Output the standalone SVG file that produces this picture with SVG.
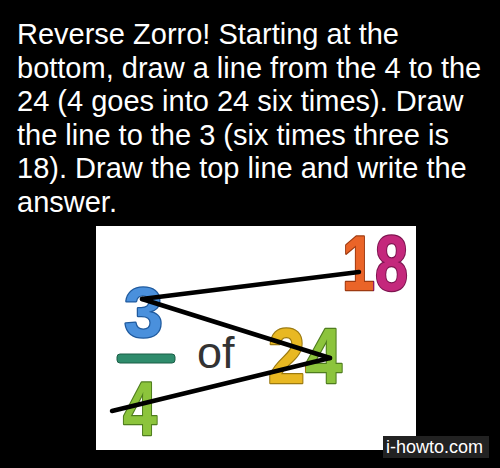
<svg xmlns="http://www.w3.org/2000/svg" width="500" height="468" viewBox="0 0 500 468">
<style>
.t{font-family:"Liberation Sans",Arial,sans-serif;font-size:29px;fill:#fff}
.d{font-family:"Liberation Sans",Arial,sans-serif;font-weight:bold;paint-order:stroke;stroke-width:2.5;stroke-linejoin:round}
.ln{stroke:#000;stroke-width:4.5;stroke-linecap:round;fill:none}
</style>
<defs>
<linearGradient id="g18" gradientUnits="userSpaceOnUse" x1="342" y1="0" x2="408" y2="0">
<stop offset="0.47" stop-color="#ea6428"/><stop offset="0.47" stop-color="#c4287c"/>
</linearGradient>
<linearGradient id="s18" gradientUnits="userSpaceOnUse" x1="342" y1="0" x2="408" y2="0">
<stop offset="0.47" stop-color="#9e3a10"/><stop offset="0.47" stop-color="#7e1450"/>
</linearGradient>
<linearGradient id="g24" gradientUnits="userSpaceOnUse" x1="268" y1="0" x2="342" y2="0">
<stop offset="0.52" stop-color="#e8b822"/><stop offset="0.52" stop-color="#8cc43c"/>
</linearGradient>
<linearGradient id="s24" gradientUnits="userSpaceOnUse" x1="268" y1="0" x2="342" y2="0">
<stop offset="0.52" stop-color="#9c7a10"/><stop offset="0.52" stop-color="#4f7d1e"/>
</linearGradient>
</defs>
<rect width="500" height="468" fill="#000"/>
<g id="caption">
<text class="t" x="17" y="44">Reverse Zorro! Starting at the</text>
<text class="t" x="17" y="77.5">bottom, draw a line from the 4 to the</text>
<text class="t" x="17" y="111">24 (4 goes into 24 six times). Draw</text>
<text class="t" x="17" y="144.5">the line to the 3 (six times three is</text>
<text class="t" x="17" y="178">18). Draw the top line and write the</text>
<text class="t" x="17" y="211.5">answer.</text>
</g>
<rect x="96" y="226" width="320" height="224" fill="#fff"/>
<g id="n3"><text class="d" x="124" y="337" font-size="70" fill="#4a90dc" stroke="#1f5a9e" textLength="39" lengthAdjust="spacingAndGlyphs">3</text></g>
<g id="bar"><rect x="117" y="354" width="58" height="9" rx="3" fill="#2f8c6c" stroke="#1b5e47" stroke-width="1"/></g>
<g id="n4"><text class="d" x="123" y="435" font-size="76" fill="#8cc43c" stroke="#4f7d1e" textLength="34" lengthAdjust="spacingAndGlyphs">4</text></g>
<g id="of"><text x="197" y="368" font-family="Liberation Sans,Arial,sans-serif" font-size="45" fill="#333">of</text></g>
<g id="n24"><text class="d" x="268" y="383" font-size="78" textLength="74" lengthAdjust="spacingAndGlyphs" fill="url(#g24)" stroke="url(#s24)">24</text></g>
<g id="n18"><text class="d" x="342" y="290" font-size="77" textLength="66" lengthAdjust="spacingAndGlyphs" fill="url(#g18)" stroke="url(#s18)">18</text></g>
<g id="connectors">
<line class="ln" x1="112" y1="411" x2="330" y2="358"/>
<line class="ln" x1="330" y1="358" x2="142" y2="299"/>
<line class="ln" x1="142" y1="299" x2="359" y2="272"/>
</g>
<g id="watermark">
<rect x="383" y="436" width="106" height="22" fill="#222"/>
<text x="386" y="453" font-family="Liberation Sans,Arial,sans-serif" font-size="18" fill="#fff">i-howto.com</text>
</g>
</svg>
